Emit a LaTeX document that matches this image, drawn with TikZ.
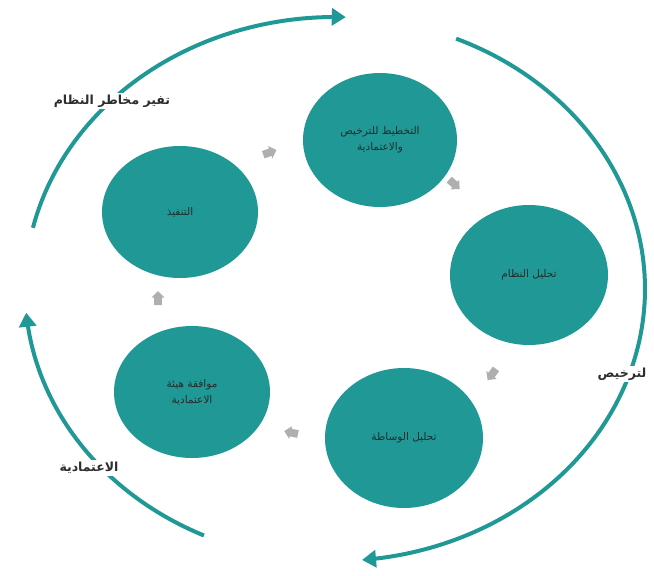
\documentclass[tikz,border=0pt]{standalone}
\usepackage{fontspec}
\newfontfamily\arabicfont[Script=Arabic]{DejaVu Sans}
\TeXXeTstate=1
\usetikzlibrary{arrows.meta,shapes.arrows,shapes.geometric}
\definecolor{teal1}{RGB}{32,152,150}
\definecolor{txt}{RGB}{35,45,45}
\definecolor{lbl}{RGB}{45,45,45}
\definecolor{garr}{RGB}{175,175,175}
\begin{document}
\begin{tikzpicture}[x=1pt,y=-1pt,
  stage/.style={ellipse,fill=teal1,draw=none,minimum width=156pt,minimum height=134pt,inner sep=0pt,
     text=txt,align=center,font=\arabicfont\fontsize{10.5}{16}\selectfont},
  ringline/.style={draw=teal1,line width=4pt,-{Triangle[length=14pt,width=17pt]}},
  ringlabel/.style={fill=white,text=lbl,inner sep=2pt,font=\arabicfont\bfseries\fontsize{12.5}{14}\selectfont},
  garrow/.style={single arrow,fill=garr,draw=none,minimum height=14pt,minimum width=13pt,
     single arrow head extend=2.5pt,inner sep=3.5pt}]
\useasboundingbox (0,0) rectangle (654,576);
% outer ring
\draw[ringline] plot[domain=167:88,samples=80] ({335+310*cos(\x)},{289-272*sin(\x)});
\draw[ringline] plot[domain=67:-85,samples=120] ({335+310*cos(\x)},{289-272*sin(\x)});
\draw[ringline] plot[domain=245:185,samples=60] ({335+310*cos(\x)},{289-272*sin(\x)});
% ring labels
\node[ringlabel] (l1) at (112,101) {\beginR تفير مخاطر النظام\endR};
\node[ringlabel] (l2) at (622,374) {\beginR لترخيص\endR};
\node[ringlabel] (l3) at (89,468) {\beginR الاعتمادية\endR};
% stages
\node[stage,minimum width=154pt,minimum height=134pt] (top) at (380,140) {\beginR التخطيط للترخيص\endR\\\beginR والاعتمادية\endR};
\node[stage,minimum width=158pt,minimum height=140pt] (right) at (529,275) {\beginR تحليل النظام\endR};
\node[stage,minimum width=158pt,minimum height=140pt] (bottom) at (404,438) {\beginR تحليل الوساطة\endR};
\node[stage,minimum width=156pt,minimum height=132pt] (bleft) at (192,392) {\beginR موافقة هيئة\endR\\\beginR الاعتمادية\endR};
\node[stage,minimum width=156pt,minimum height=132pt] (left) at (180,212) {\beginR التنفيذ\endR};
% small grey arrows
\node[garrow,rotate=20] (g1) at (268,153) {};
\node[garrow,rotate=-42] (g2) at (453,183) {};
\node[garrow,rotate=-127] (g3) at (493,373) {};
\node[garrow,rotate=168] (g4) at (293,433) {};
\node[garrow,rotate=90] (g5) at (158,300) {};
\end{tikzpicture}
\end{document}
